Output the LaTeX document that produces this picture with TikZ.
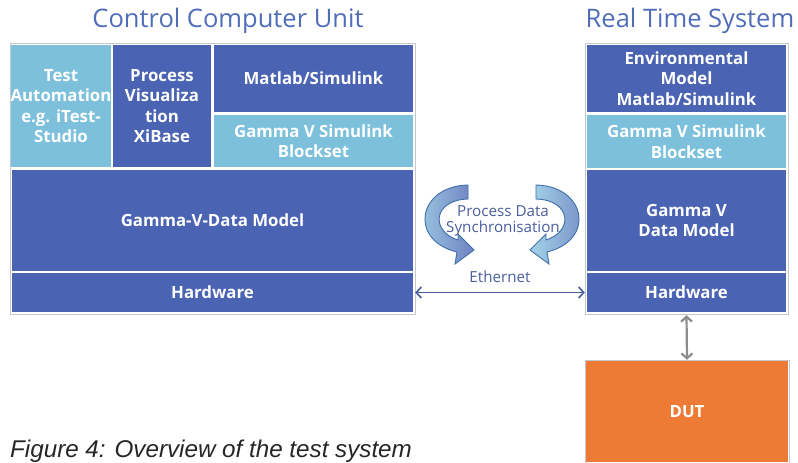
\documentclass[tikz,border=0pt]{standalone}
\usepackage{fontspec}
\setmainfont{Liberation Sans}
\newfontfamily\titlefont{Open Sans}
\usetikzlibrary{arrows.meta}
\definecolor{dkblue}{HTML}{4A63B2}
\definecolor{ltblue}{HTML}{7CC0DC}
\definecolor{ttlblue}{HTML}{4F6DB8}
\definecolor{linkblue}{HTML}{4B5E9E}
\definecolor{dutorange}{HTML}{EE7B35}
\definecolor{framegray}{HTML}{C4C8CE}
\definecolor{arrowgray}{HTML}{8C8C8C}
\definecolor{swirldark}{HTML}{3F6FA8}
\tikzset{
  x=1pt, y=-1pt,
  cell/.style={inner sep=0pt, text=white, font=\titlefont\bfseries\fontsize{16.8}{20.5}\selectfont, align=center},
  dk/.style={cell, fill=dkblue},
  lt/.style={cell, fill=ltblue},
  frame/.style={draw=framegray, line width=0.8pt, fill=white},
  ttl/.style={text=ttlblue, font=\titlefont\fontsize{25.5}{28}\selectfont, inner sep=0pt},
  lbl/.style={text=linkblue, font=\titlefont\fontsize{15.2}{16.5}\selectfont, inner sep=0pt, align=center},
  swirl/.style={draw=swirldark, line width=0.9pt, left color=ltblue!70!white, right color=dkblue!80!white}
}
\begin{document}
\begin{tikzpicture}
\useasboundingbox (0,0) rectangle (798,463);
% titles
\node[ttl] (t1) at (228,21) {Control Computer Unit};
\node[ttl] (t2) at (690,21) {Real Time System};
% left frame
\draw[frame] (10,43) rectangle (415,314);
\node[lt, minimum width=98, minimum height=122] (ta) at (61,106) {Test\\Automation\\e.g. iTest-\\Studio};
\node[dk, minimum width=98, minimum height=122] (pv) at (162,106) {Process\\Visualiza\\tion\\XiBase};
\node[dk, minimum width=199, minimum height=67] (ml) at (313.5,78.5) {Matlab/Simulink};
\node[lt, minimum width=199, minimum height=52] (gsb) at (313.5,141) {Gamma V Simulink\\Blockset};
\node[dk, minimum width=401, minimum height=101] (gdm) at (212.5,220.5) {Gamma-V-Data Model};
\node[dk, minimum width=401, minimum height=39] (hw) at (212.5,292.5) {Hardware};
% right frame
\draw[frame] (585,43) rectangle (788,314);
\node[dk, minimum width=199, minimum height=67] (env) at (686.5,78.5) {Environmental\\Model\\Matlab/Simulink};
\node[lt, minimum width=199, minimum height=53] (rgsb) at (686.5,141.5) {Gamma V Simulink\\Blockset};
\node[dk, minimum width=199, minimum height=101] (rdm) at (686.5,220.5) {Gamma V\\Data Model};
\node[dk, minimum width=199, minimum height=39] (rhw) at (686.5,292.5) {Hardware};
% DUT
\draw[frame] (585,360) rectangle (789,463);
\node[cell, fill=dutorange, minimum width=202, minimum height=101] (dut) at (687,411.5) {DUT};
% swirl arrows
\path[swirl] (468,185) .. controls (418,186) and (408,240) .. (457,252)
  -- (455,264) -- (474,250) -- (458,234) -- (458,240)
  .. controls (430,231) and (433,200) .. (468,199) -- cycle;
\path[swirl] (536,185) .. controls (586,186) and (596,240) .. (547,252)
  -- (549,264) -- (530,250) -- (546,234) -- (546,240)
  .. controls (574,231) and (571,200) .. (536,199) -- cycle;
\node[lbl] (pds) at (503,221) {Process Data\\Synchronisation};
% ethernet
\draw[linkblue, line width=1.6pt, {Straight Barb[length=5pt,width=11pt]}-{Straight Barb[length=5pt,width=11pt]}] ([xshift=2pt]hw.east) -- node[lbl, above=9pt] (eth) {Ethernet} ([xshift=-2pt]rhw.west);
% DUT link
\draw[arrowgray, line width=2.2pt, {Straight Barb[length=5pt,width=11pt]}-{Straight Barb[length=5pt,width=11pt]}] ([yshift=-3pt]rhw.south) -- ([yshift=1pt]dut.north);
% caption
\node[anchor=base west, inner sep=0pt, font=\itshape\fontsize{24.2}{27}\selectfont, text=black!85] (cap) at (10,457) {Figure 4: Overview of the test system};
\end{tikzpicture}
\end{document}
